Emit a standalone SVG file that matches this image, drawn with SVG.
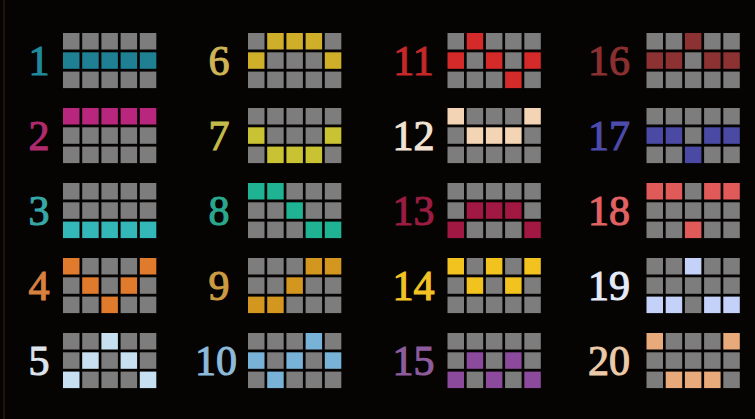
<svg xmlns="http://www.w3.org/2000/svg" width="755" height="419" viewBox="0 0 755 419">
<style>
.g{fill:#7d7d7d}
.n{font-family:"Liberation Serif","DejaVu Serif",serif;font-size:42px;text-anchor:middle;stroke-width:1.1px}
.c1{fill:#1f7f93}.t1{fill:#1f8a9c;stroke:#1f8a9c}
.c2{fill:#b8267e}.t2{fill:#b02a6e;stroke:#b02a6e}
.c3{fill:#33b7b9}.t3{fill:#36a8a8;stroke:#36a8a8}
.c4{fill:#e07a2c}.t4{fill:#d88040;stroke:#d88040}
.c5{fill:#c6e0f2}.t5{fill:#dde4ec;stroke:#dde4ec}
.c6{fill:#cfae2a}.t6{fill:#cdb456;stroke:#cdb456}
.c7{fill:#c9c232}.t7{fill:#c4bc4a;stroke:#c4bc4a}
.c8{fill:#1fb394}.t8{fill:#2aa88e;stroke:#2aa88e}
.c9{fill:#d3961e}.t9{fill:#cc9c42;stroke:#cc9c42}
.c10{fill:#78b2d6}.t10{fill:#8cbad8;stroke:#8cbad8}
.c11{fill:#d42a2a}.t11{fill:#c42828;stroke:#c42828}
.c12{fill:#f3d4b4}.t12{fill:#f2e2d2;stroke:#f2e2d2}
.c13{fill:#a11842}.t13{fill:#9a1c40;stroke:#9a1c40}
.c14{fill:#f2c21e}.t14{fill:#f2c224;stroke:#f2c224}
.c15{fill:#8c4a9c}.t15{fill:#8e5c9c;stroke:#8e5c9c}
.c16{fill:#8c3232}.t16{fill:#8a3030;stroke:#8a3030}
.c17{fill:#4a4aa4}.t17{fill:#4c4cac;stroke:#4c4cac}
.c18{fill:#e05a5a}.t18{fill:#e06262;stroke:#e06262}
.c19{fill:#c4d2fa}.t19{fill:#e4eaf8;stroke:#e4eaf8}
.c20{fill:#e8aa7a}.t20{fill:#eacaa8;stroke:#eacaa8}
</style>
<rect width="755" height="419" fill="#060303"/>
<rect x="3" y="0" width="2" height="419" fill="#3a1a10" opacity="0.6"/>

<g id="line1" transform="translate(63,33)"><text class="n t1" x="-24" y="42">1</text>
<rect class="g" x="0" y="0" width="16.5" height="16.5"/><rect class="g" x="19.2" y="0" width="16.5" height="16.5"/><rect class="g" x="38.4" y="0" width="16.5" height="16.5"/><rect class="g" x="57.6" y="0" width="16.5" height="16.5"/><rect class="g" x="76.8" y="0" width="16.5" height="16.5"/>
<rect class="c1" x="0" y="19.3" width="16.5" height="16.5"/><rect class="c1" x="19.2" y="19.3" width="16.5" height="16.5"/><rect class="c1" x="38.4" y="19.3" width="16.5" height="16.5"/><rect class="c1" x="57.6" y="19.3" width="16.5" height="16.5"/><rect class="c1" x="76.8" y="19.3" width="16.5" height="16.5"/>
<rect class="g" x="0" y="38.6" width="16.5" height="16.5"/><rect class="g" x="19.2" y="38.6" width="16.5" height="16.5"/><rect class="g" x="38.4" y="38.6" width="16.5" height="16.5"/><rect class="g" x="57.6" y="38.6" width="16.5" height="16.5"/><rect class="g" x="76.8" y="38.6" width="16.5" height="16.5"/>
</g>

<g id="line2" transform="translate(63,108)"><text class="n t2" x="-24" y="42">2</text>
<rect class="c2" x="0" y="0" width="16.5" height="16.5"/><rect class="c2" x="19.2" y="0" width="16.5" height="16.5"/><rect class="c2" x="38.4" y="0" width="16.5" height="16.5"/><rect class="c2" x="57.6" y="0" width="16.5" height="16.5"/><rect class="c2" x="76.8" y="0" width="16.5" height="16.5"/>
<rect class="g" x="0" y="19.3" width="16.5" height="16.5"/><rect class="g" x="19.2" y="19.3" width="16.5" height="16.5"/><rect class="g" x="38.4" y="19.3" width="16.5" height="16.5"/><rect class="g" x="57.6" y="19.3" width="16.5" height="16.5"/><rect class="g" x="76.8" y="19.3" width="16.5" height="16.5"/>
<rect class="g" x="0" y="38.6" width="16.5" height="16.5"/><rect class="g" x="19.2" y="38.6" width="16.5" height="16.5"/><rect class="g" x="38.4" y="38.6" width="16.5" height="16.5"/><rect class="g" x="57.6" y="38.6" width="16.5" height="16.5"/><rect class="g" x="76.8" y="38.6" width="16.5" height="16.5"/>
</g>

<g id="line3" transform="translate(63,183)"><text class="n t3" x="-24" y="42">3</text>
<rect class="g" x="0" y="0" width="16.5" height="16.5"/><rect class="g" x="19.2" y="0" width="16.5" height="16.5"/><rect class="g" x="38.4" y="0" width="16.5" height="16.5"/><rect class="g" x="57.6" y="0" width="16.5" height="16.5"/><rect class="g" x="76.8" y="0" width="16.5" height="16.5"/>
<rect class="g" x="0" y="19.3" width="16.5" height="16.5"/><rect class="g" x="19.2" y="19.3" width="16.5" height="16.5"/><rect class="g" x="38.4" y="19.3" width="16.5" height="16.5"/><rect class="g" x="57.6" y="19.3" width="16.5" height="16.5"/><rect class="g" x="76.8" y="19.3" width="16.5" height="16.5"/>
<rect class="c3" x="0" y="38.6" width="16.5" height="16.5"/><rect class="c3" x="19.2" y="38.6" width="16.5" height="16.5"/><rect class="c3" x="38.4" y="38.6" width="16.5" height="16.5"/><rect class="c3" x="57.6" y="38.6" width="16.5" height="16.5"/><rect class="c3" x="76.8" y="38.6" width="16.5" height="16.5"/>
</g>

<g id="line4" transform="translate(63,258)"><text class="n t4" x="-24" y="42">4</text>
<rect class="c4" x="0" y="0" width="16.5" height="16.5"/><rect class="g" x="19.2" y="0" width="16.5" height="16.5"/><rect class="g" x="38.4" y="0" width="16.5" height="16.5"/><rect class="g" x="57.6" y="0" width="16.5" height="16.5"/><rect class="c4" x="76.8" y="0" width="16.5" height="16.5"/>
<rect class="g" x="0" y="19.3" width="16.5" height="16.5"/><rect class="c4" x="19.2" y="19.3" width="16.5" height="16.5"/><rect class="g" x="38.4" y="19.3" width="16.5" height="16.5"/><rect class="c4" x="57.6" y="19.3" width="16.5" height="16.5"/><rect class="g" x="76.8" y="19.3" width="16.5" height="16.5"/>
<rect class="g" x="0" y="38.6" width="16.5" height="16.5"/><rect class="g" x="19.2" y="38.6" width="16.5" height="16.5"/><rect class="c4" x="38.4" y="38.6" width="16.5" height="16.5"/><rect class="g" x="57.6" y="38.6" width="16.5" height="16.5"/><rect class="g" x="76.8" y="38.6" width="16.5" height="16.5"/>
</g>

<g id="line5" transform="translate(63,333)"><text class="n t5" x="-24" y="42">5</text>
<rect class="g" x="0" y="0" width="16.5" height="16.5"/><rect class="g" x="19.2" y="0" width="16.5" height="16.5"/><rect class="c5" x="38.4" y="0" width="16.5" height="16.5"/><rect class="g" x="57.6" y="0" width="16.5" height="16.5"/><rect class="g" x="76.8" y="0" width="16.5" height="16.5"/>
<rect class="g" x="0" y="19.3" width="16.5" height="16.5"/><rect class="c5" x="19.2" y="19.3" width="16.5" height="16.5"/><rect class="g" x="38.4" y="19.3" width="16.5" height="16.5"/><rect class="c5" x="57.6" y="19.3" width="16.5" height="16.5"/><rect class="g" x="76.8" y="19.3" width="16.5" height="16.5"/>
<rect class="c5" x="0" y="38.6" width="16.5" height="16.5"/><rect class="g" x="19.2" y="38.6" width="16.5" height="16.5"/><rect class="g" x="38.4" y="38.6" width="16.5" height="16.5"/><rect class="g" x="57.6" y="38.6" width="16.5" height="16.5"/><rect class="c5" x="76.8" y="38.6" width="16.5" height="16.5"/>
</g>

<g id="line6" transform="translate(248,33)"><text class="n t6" x="-29" y="42">6</text>
<rect class="g" x="0" y="0" width="16.5" height="16.5"/><rect class="c6" x="19.2" y="0" width="16.5" height="16.5"/><rect class="c6" x="38.4" y="0" width="16.5" height="16.5"/><rect class="c6" x="57.6" y="0" width="16.5" height="16.5"/><rect class="g" x="76.8" y="0" width="16.5" height="16.5"/>
<rect class="c6" x="0" y="19.3" width="16.5" height="16.5"/><rect class="g" x="19.2" y="19.3" width="16.5" height="16.5"/><rect class="g" x="38.4" y="19.3" width="16.5" height="16.5"/><rect class="g" x="57.6" y="19.3" width="16.5" height="16.5"/><rect class="c6" x="76.8" y="19.3" width="16.5" height="16.5"/>
<rect class="g" x="0" y="38.6" width="16.5" height="16.5"/><rect class="g" x="19.2" y="38.6" width="16.5" height="16.5"/><rect class="g" x="38.4" y="38.6" width="16.5" height="16.5"/><rect class="g" x="57.6" y="38.6" width="16.5" height="16.5"/><rect class="g" x="76.8" y="38.6" width="16.5" height="16.5"/>
</g>

<g id="line7" transform="translate(248,108)"><text class="n t7" x="-29" y="42">7</text>
<rect class="g" x="0" y="0" width="16.5" height="16.5"/><rect class="g" x="19.2" y="0" width="16.5" height="16.5"/><rect class="g" x="38.4" y="0" width="16.5" height="16.5"/><rect class="g" x="57.6" y="0" width="16.5" height="16.5"/><rect class="g" x="76.8" y="0" width="16.5" height="16.5"/>
<rect class="c7" x="0" y="19.3" width="16.5" height="16.5"/><rect class="g" x="19.2" y="19.3" width="16.5" height="16.5"/><rect class="g" x="38.4" y="19.3" width="16.5" height="16.5"/><rect class="g" x="57.6" y="19.3" width="16.5" height="16.5"/><rect class="c7" x="76.8" y="19.3" width="16.5" height="16.5"/>
<rect class="g" x="0" y="38.6" width="16.5" height="16.5"/><rect class="c7" x="19.2" y="38.6" width="16.5" height="16.5"/><rect class="c7" x="38.4" y="38.6" width="16.5" height="16.5"/><rect class="c7" x="57.6" y="38.6" width="16.5" height="16.5"/><rect class="g" x="76.8" y="38.6" width="16.5" height="16.5"/>
</g>

<g id="line8" transform="translate(248,183)"><text class="n t8" x="-29" y="42">8</text>
<rect class="c8" x="0" y="0" width="16.5" height="16.5"/><rect class="c8" x="19.2" y="0" width="16.5" height="16.5"/><rect class="g" x="38.4" y="0" width="16.5" height="16.5"/><rect class="g" x="57.6" y="0" width="16.5" height="16.5"/><rect class="g" x="76.8" y="0" width="16.5" height="16.5"/>
<rect class="g" x="0" y="19.3" width="16.5" height="16.5"/><rect class="g" x="19.2" y="19.3" width="16.5" height="16.5"/><rect class="c8" x="38.4" y="19.3" width="16.5" height="16.5"/><rect class="g" x="57.6" y="19.3" width="16.5" height="16.5"/><rect class="g" x="76.8" y="19.3" width="16.5" height="16.5"/>
<rect class="g" x="0" y="38.6" width="16.5" height="16.5"/><rect class="g" x="19.2" y="38.6" width="16.5" height="16.5"/><rect class="g" x="38.4" y="38.6" width="16.5" height="16.5"/><rect class="c8" x="57.6" y="38.6" width="16.5" height="16.5"/><rect class="c8" x="76.8" y="38.6" width="16.5" height="16.5"/>
</g>

<g id="line9" transform="translate(248,258)"><text class="n t9" x="-29" y="42">9</text>
<rect class="g" x="0" y="0" width="16.5" height="16.5"/><rect class="g" x="19.2" y="0" width="16.5" height="16.5"/><rect class="g" x="38.4" y="0" width="16.5" height="16.5"/><rect class="c9" x="57.6" y="0" width="16.5" height="16.5"/><rect class="c9" x="76.8" y="0" width="16.5" height="16.5"/>
<rect class="g" x="0" y="19.3" width="16.5" height="16.5"/><rect class="g" x="19.2" y="19.3" width="16.5" height="16.5"/><rect class="c9" x="38.4" y="19.3" width="16.5" height="16.5"/><rect class="g" x="57.6" y="19.3" width="16.5" height="16.5"/><rect class="g" x="76.8" y="19.3" width="16.5" height="16.5"/>
<rect class="c9" x="0" y="38.6" width="16.5" height="16.5"/><rect class="c9" x="19.2" y="38.6" width="16.5" height="16.5"/><rect class="g" x="38.4" y="38.6" width="16.5" height="16.5"/><rect class="g" x="57.6" y="38.6" width="16.5" height="16.5"/><rect class="g" x="76.8" y="38.6" width="16.5" height="16.5"/>
</g>

<g id="line10" transform="translate(248,333)"><text class="n t10" x="-32" y="42">10</text>
<rect class="g" x="0" y="0" width="16.5" height="16.5"/><rect class="g" x="19.2" y="0" width="16.5" height="16.5"/><rect class="g" x="38.4" y="0" width="16.5" height="16.5"/><rect class="c10" x="57.6" y="0" width="16.5" height="16.5"/><rect class="g" x="76.8" y="0" width="16.5" height="16.5"/>
<rect class="c10" x="0" y="19.3" width="16.5" height="16.5"/><rect class="g" x="19.2" y="19.3" width="16.5" height="16.5"/><rect class="c10" x="38.4" y="19.3" width="16.5" height="16.5"/><rect class="g" x="57.6" y="19.3" width="16.5" height="16.5"/><rect class="c10" x="76.8" y="19.3" width="16.5" height="16.5"/>
<rect class="g" x="0" y="38.6" width="16.5" height="16.5"/><rect class="c10" x="19.2" y="38.6" width="16.5" height="16.5"/><rect class="g" x="38.4" y="38.6" width="16.5" height="16.5"/><rect class="g" x="57.6" y="38.6" width="16.5" height="16.5"/><rect class="g" x="76.8" y="38.6" width="16.5" height="16.5"/>
</g>

<g id="line11" transform="translate(447.5,33)"><text class="n t11" x="-34" y="42">11</text>
<rect class="g" x="0" y="0" width="16.5" height="16.5"/><rect class="c11" x="19.2" y="0" width="16.5" height="16.5"/><rect class="g" x="38.4" y="0" width="16.5" height="16.5"/><rect class="g" x="57.6" y="0" width="16.5" height="16.5"/><rect class="g" x="76.8" y="0" width="16.5" height="16.5"/>
<rect class="c11" x="0" y="19.3" width="16.5" height="16.5"/><rect class="g" x="19.2" y="19.3" width="16.5" height="16.5"/><rect class="c11" x="38.4" y="19.3" width="16.5" height="16.5"/><rect class="g" x="57.6" y="19.3" width="16.5" height="16.5"/><rect class="c11" x="76.8" y="19.3" width="16.5" height="16.5"/>
<rect class="g" x="0" y="38.6" width="16.5" height="16.5"/><rect class="g" x="19.2" y="38.6" width="16.5" height="16.5"/><rect class="g" x="38.4" y="38.6" width="16.5" height="16.5"/><rect class="c11" x="57.6" y="38.6" width="16.5" height="16.5"/><rect class="g" x="76.8" y="38.6" width="16.5" height="16.5"/>
</g>

<g id="line12" transform="translate(447.5,108)"><text class="n t12" x="-34" y="42">12</text>
<rect class="c12" x="0" y="0" width="16.5" height="16.5"/><rect class="g" x="19.2" y="0" width="16.5" height="16.5"/><rect class="g" x="38.4" y="0" width="16.5" height="16.5"/><rect class="g" x="57.6" y="0" width="16.5" height="16.5"/><rect class="c12" x="76.8" y="0" width="16.5" height="16.5"/>
<rect class="g" x="0" y="19.3" width="16.5" height="16.5"/><rect class="c12" x="19.2" y="19.3" width="16.5" height="16.5"/><rect class="c12" x="38.4" y="19.3" width="16.5" height="16.5"/><rect class="c12" x="57.6" y="19.3" width="16.5" height="16.5"/><rect class="g" x="76.8" y="19.3" width="16.5" height="16.5"/>
<rect class="g" x="0" y="38.6" width="16.5" height="16.5"/><rect class="g" x="19.2" y="38.6" width="16.5" height="16.5"/><rect class="g" x="38.4" y="38.6" width="16.5" height="16.5"/><rect class="g" x="57.6" y="38.6" width="16.5" height="16.5"/><rect class="g" x="76.8" y="38.6" width="16.5" height="16.5"/>
</g>

<g id="line13" transform="translate(447.5,183)"><text class="n t13" x="-34" y="42">13</text>
<rect class="g" x="0" y="0" width="16.5" height="16.5"/><rect class="g" x="19.2" y="0" width="16.5" height="16.5"/><rect class="g" x="38.4" y="0" width="16.5" height="16.5"/><rect class="g" x="57.6" y="0" width="16.5" height="16.5"/><rect class="g" x="76.8" y="0" width="16.5" height="16.5"/>
<rect class="g" x="0" y="19.3" width="16.5" height="16.5"/><rect class="c13" x="19.2" y="19.3" width="16.5" height="16.5"/><rect class="c13" x="38.4" y="19.3" width="16.5" height="16.5"/><rect class="c13" x="57.6" y="19.3" width="16.5" height="16.5"/><rect class="g" x="76.8" y="19.3" width="16.5" height="16.5"/>
<rect class="c13" x="0" y="38.6" width="16.5" height="16.5"/><rect class="g" x="19.2" y="38.6" width="16.5" height="16.5"/><rect class="g" x="38.4" y="38.6" width="16.5" height="16.5"/><rect class="g" x="57.6" y="38.6" width="16.5" height="16.5"/><rect class="c13" x="76.8" y="38.6" width="16.5" height="16.5"/>
</g>

<g id="line14" transform="translate(447.5,258)"><text class="n t14" x="-34" y="42">14</text>
<rect class="c14" x="0" y="0" width="16.5" height="16.5"/><rect class="g" x="19.2" y="0" width="16.5" height="16.5"/><rect class="c14" x="38.4" y="0" width="16.5" height="16.5"/><rect class="g" x="57.6" y="0" width="16.5" height="16.5"/><rect class="c14" x="76.8" y="0" width="16.5" height="16.5"/>
<rect class="g" x="0" y="19.3" width="16.5" height="16.5"/><rect class="c14" x="19.2" y="19.3" width="16.5" height="16.5"/><rect class="g" x="38.4" y="19.3" width="16.5" height="16.5"/><rect class="c14" x="57.6" y="19.3" width="16.5" height="16.5"/><rect class="g" x="76.8" y="19.3" width="16.5" height="16.5"/>
<rect class="g" x="0" y="38.6" width="16.5" height="16.5"/><rect class="g" x="19.2" y="38.6" width="16.5" height="16.5"/><rect class="g" x="38.4" y="38.6" width="16.5" height="16.5"/><rect class="g" x="57.6" y="38.6" width="16.5" height="16.5"/><rect class="g" x="76.8" y="38.6" width="16.5" height="16.5"/>
</g>

<g id="line15" transform="translate(447.5,333)"><text class="n t15" x="-34" y="42">15</text>
<rect class="g" x="0" y="0" width="16.5" height="16.5"/><rect class="g" x="19.2" y="0" width="16.5" height="16.5"/><rect class="g" x="38.4" y="0" width="16.5" height="16.5"/><rect class="g" x="57.6" y="0" width="16.5" height="16.5"/><rect class="g" x="76.8" y="0" width="16.5" height="16.5"/>
<rect class="g" x="0" y="19.3" width="16.5" height="16.5"/><rect class="c15" x="19.2" y="19.3" width="16.5" height="16.5"/><rect class="g" x="38.4" y="19.3" width="16.5" height="16.5"/><rect class="c15" x="57.6" y="19.3" width="16.5" height="16.5"/><rect class="g" x="76.8" y="19.3" width="16.5" height="16.5"/>
<rect class="c15" x="0" y="38.6" width="16.5" height="16.5"/><rect class="g" x="19.2" y="38.6" width="16.5" height="16.5"/><rect class="c15" x="38.4" y="38.6" width="16.5" height="16.5"/><rect class="g" x="57.6" y="38.6" width="16.5" height="16.5"/><rect class="c15" x="76.8" y="38.6" width="16.5" height="16.5"/>
</g>

<g id="line16" transform="translate(646.5,33)"><text class="n t16" x="-37.5" y="42">16</text>
<rect class="g" x="0" y="0" width="16.5" height="16.5"/><rect class="g" x="19.2" y="0" width="16.5" height="16.5"/><rect class="c16" x="38.4" y="0" width="16.5" height="16.5"/><rect class="g" x="57.6" y="0" width="16.5" height="16.5"/><rect class="g" x="76.8" y="0" width="16.5" height="16.5"/>
<rect class="c16" x="0" y="19.3" width="16.5" height="16.5"/><rect class="c16" x="19.2" y="19.3" width="16.5" height="16.5"/><rect class="g" x="38.4" y="19.3" width="16.5" height="16.5"/><rect class="c16" x="57.6" y="19.3" width="16.5" height="16.5"/><rect class="c16" x="76.8" y="19.3" width="16.5" height="16.5"/>
<rect class="g" x="0" y="38.6" width="16.5" height="16.5"/><rect class="g" x="19.2" y="38.6" width="16.5" height="16.5"/><rect class="g" x="38.4" y="38.6" width="16.5" height="16.5"/><rect class="g" x="57.6" y="38.6" width="16.5" height="16.5"/><rect class="g" x="76.8" y="38.6" width="16.5" height="16.5"/>
</g>

<g id="line17" transform="translate(646.5,108)"><text class="n t17" x="-37.5" y="42">17</text>
<rect class="g" x="0" y="0" width="16.5" height="16.5"/><rect class="g" x="19.2" y="0" width="16.5" height="16.5"/><rect class="g" x="38.4" y="0" width="16.5" height="16.5"/><rect class="g" x="57.6" y="0" width="16.5" height="16.5"/><rect class="g" x="76.8" y="0" width="16.5" height="16.5"/>
<rect class="c17" x="0" y="19.3" width="16.5" height="16.5"/><rect class="c17" x="19.2" y="19.3" width="16.5" height="16.5"/><rect class="g" x="38.4" y="19.3" width="16.5" height="16.5"/><rect class="c17" x="57.6" y="19.3" width="16.5" height="16.5"/><rect class="c17" x="76.8" y="19.3" width="16.5" height="16.5"/>
<rect class="g" x="0" y="38.6" width="16.5" height="16.5"/><rect class="g" x="19.2" y="38.6" width="16.5" height="16.5"/><rect class="c17" x="38.4" y="38.6" width="16.5" height="16.5"/><rect class="g" x="57.6" y="38.6" width="16.5" height="16.5"/><rect class="g" x="76.8" y="38.6" width="16.5" height="16.5"/>
</g>

<g id="line18" transform="translate(646.5,183)"><text class="n t18" x="-37.5" y="42">18</text>
<rect class="c18" x="0" y="0" width="16.5" height="16.5"/><rect class="c18" x="19.2" y="0" width="16.5" height="16.5"/><rect class="g" x="38.4" y="0" width="16.5" height="16.5"/><rect class="c18" x="57.6" y="0" width="16.5" height="16.5"/><rect class="c18" x="76.8" y="0" width="16.5" height="16.5"/>
<rect class="g" x="0" y="19.3" width="16.5" height="16.5"/><rect class="g" x="19.2" y="19.3" width="16.5" height="16.5"/><rect class="g" x="38.4" y="19.3" width="16.5" height="16.5"/><rect class="g" x="57.6" y="19.3" width="16.5" height="16.5"/><rect class="g" x="76.8" y="19.3" width="16.5" height="16.5"/>
<rect class="g" x="0" y="38.6" width="16.5" height="16.5"/><rect class="g" x="19.2" y="38.6" width="16.5" height="16.5"/><rect class="c18" x="38.4" y="38.6" width="16.5" height="16.5"/><rect class="g" x="57.6" y="38.6" width="16.5" height="16.5"/><rect class="g" x="76.8" y="38.6" width="16.5" height="16.5"/>
</g>

<g id="line19" transform="translate(646.5,258)"><text class="n t19" x="-37.5" y="42">19</text>
<rect class="g" x="0" y="0" width="16.5" height="16.5"/><rect class="g" x="19.2" y="0" width="16.5" height="16.5"/><rect class="c19" x="38.4" y="0" width="16.5" height="16.5"/><rect class="g" x="57.6" y="0" width="16.5" height="16.5"/><rect class="g" x="76.8" y="0" width="16.5" height="16.5"/>
<rect class="g" x="0" y="19.3" width="16.5" height="16.5"/><rect class="g" x="19.2" y="19.3" width="16.5" height="16.5"/><rect class="g" x="38.4" y="19.3" width="16.5" height="16.5"/><rect class="g" x="57.6" y="19.3" width="16.5" height="16.5"/><rect class="g" x="76.8" y="19.3" width="16.5" height="16.5"/>
<rect class="c19" x="0" y="38.6" width="16.5" height="16.5"/><rect class="c19" x="19.2" y="38.6" width="16.5" height="16.5"/><rect class="g" x="38.4" y="38.6" width="16.5" height="16.5"/><rect class="c19" x="57.6" y="38.6" width="16.5" height="16.5"/><rect class="c19" x="76.8" y="38.6" width="16.5" height="16.5"/>
</g>

<g id="line20" transform="translate(646.5,333)"><text class="n t20" x="-37.5" y="42">20</text>
<rect class="c20" x="0" y="0" width="16.5" height="16.5"/><rect class="g" x="19.2" y="0" width="16.5" height="16.5"/><rect class="g" x="38.4" y="0" width="16.5" height="16.5"/><rect class="g" x="57.6" y="0" width="16.5" height="16.5"/><rect class="c20" x="76.8" y="0" width="16.5" height="16.5"/>
<rect class="g" x="0" y="19.3" width="16.5" height="16.5"/><rect class="g" x="19.2" y="19.3" width="16.5" height="16.5"/><rect class="g" x="38.4" y="19.3" width="16.5" height="16.5"/><rect class="g" x="57.6" y="19.3" width="16.5" height="16.5"/><rect class="g" x="76.8" y="19.3" width="16.5" height="16.5"/>
<rect class="g" x="0" y="38.6" width="16.5" height="16.5"/><rect class="c20" x="19.2" y="38.6" width="16.5" height="16.5"/><rect class="c20" x="38.4" y="38.6" width="16.5" height="16.5"/><rect class="c20" x="57.6" y="38.6" width="16.5" height="16.5"/><rect class="g" x="76.8" y="38.6" width="16.5" height="16.5"/>
</g>
</svg>
